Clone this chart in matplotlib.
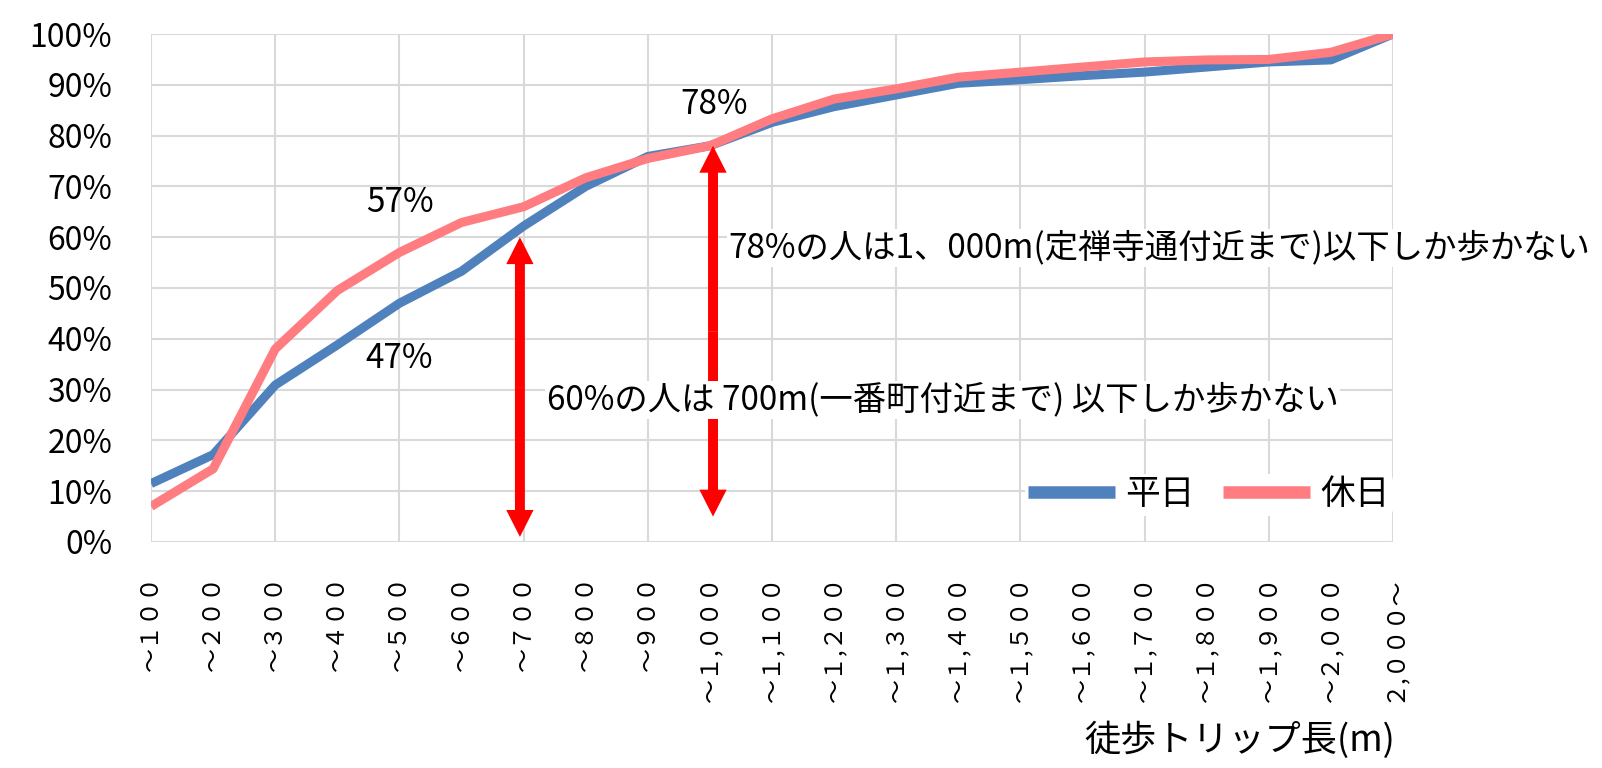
import matplotlib
matplotlib.use("Agg")
import matplotlib.pyplot as plt

plt.rcParams['font.family'] = ['Noto Sans CJK JP', 'DejaVu Sans']

# trip length bins (m)
bins = ["〜１００", "〜２００", "〜３００", "〜４００", "〜５００", "〜６００", "〜７００",
        "〜８００", "〜９００", "〜１,０００", "〜１,１００", "〜１,２００", "〜１,３００",
        "〜１,４００", "〜１,５００", "〜１,６００", "〜１,７００", "〜１,８００",
        "〜１,９００", "〜２,０００", "２,０００〜"]

# cumulative share of walking trips (%)
weekday = [11.5, 17.2, 30.9, 38.8, 47.0, 53.3, 62.2, 70.0, 75.9, 78.0, 82.6,
           85.7, 88.0, 90.3, 91.0, 91.8, 92.5, 93.5, 94.5, 94.9, 100.0]
holiday = [7.0, 14.4, 38.0, 49.5, 57.0, 62.9, 66.0, 71.7, 75.5, 78.0, 83.3,
           87.2, 89.2, 91.5, 92.5, 93.5, 94.5, 94.9, 95.0, 96.4, 100.0]

BLUE = "#4F81BD"
PINK = "#FF7C80"
GRID = "#D9D9D9"

fig = plt.figure(figsize=(16.02, 7.68), dpi=100)
ax = fig.add_axes([0.0943, 0.2943, 0.7752, 0.6614])

x = list(range(len(bins)))
ax.plot(x, weekday, color=BLUE, lw=6.5, label="平日", zorder=3, solid_capstyle="butt")
ax.plot(x, holiday, color=PINK, lw=6.5, label="休日", zorder=4, solid_capstyle="butt")

ax.set_xlim(0, len(bins) - 1)
ax.set_ylim(0, 100)
ax.set_yticks(range(0, 101, 10))
ax.set_yticklabels([f"{v}%" for v in range(0, 101, 10)], fontsize=23)
ax.set_xticks(x)
ax.set_xticklabels(bins, rotation=90, fontsize=17.3, va="top", ha="center")
ax.tick_params(axis="y", length=0, pad=28)
ax.tick_params(axis="x", length=0, pad=24)

# vertical grid on every second bin
for xi in x[::2]:
    ax.axvline(xi, color=GRID, lw=1.5, zorder=0)
for yv in range(0, 101, 10):
    ax.axhline(yv, color=GRID, lw=1.5, zorder=0)
for s in ax.spines.values():
    s.set_visible(False)

# double-headed red arrows
arrows = [(5.94, 60, 1), (9.05, 78, 5)]
for ax_x, top, bot in arrows:
    mid = (top + bot) / 2
    for end in (top, bot):
        ax.arrow(ax_x, mid, 0, end - mid, width=0.16, head_width=0.44,
                 head_length=5.3, length_includes_head=True,
                 fc="red", ec="none", zorder=5)

ax.text(4, 66.8, "57%", fontsize=24, ha="center", va="center", zorder=6)
ax.text(4, 36.2, "47%", fontsize=24, ha="center", va="center", zorder=6)
ax.text(9.07, 86.1, "78%", fontsize=24, ha="center", va="center", zorder=6)

box = dict(facecolor="white", edgecolor="none", pad=1)
ax.text(6.37, 27.9, "60%の人は 700m(一番町付近まで) 以下しか歩かない", fontsize=24,
        ha="left", va="center", bbox=box, zorder=7)
ax.text(9.29, 57.9, "78%の人は1、000m(定禅寺通付近まで)以下しか歩かない", fontsize=24,
        ha="left", va="center", bbox=box, zorder=7)

leg = ax.legend(loc="center right", bbox_to_anchor=(1.0, 0.0925), ncol=2,
                fontsize=25, frameon=True, facecolor="white", edgecolor="none",
                framealpha=1, handlelength=2.5, handletextpad=0.3,
                columnspacing=0.8, borderpad=0.1, borderaxespad=0)
for line in leg.get_lines():
    line.set_linewidth(9)

fig.text(0.871, 0.036, "徒歩トリップ長(m)", fontsize=26, ha="right", va="center")

fig.savefig("out.png", dpi=100, facecolor="white")
